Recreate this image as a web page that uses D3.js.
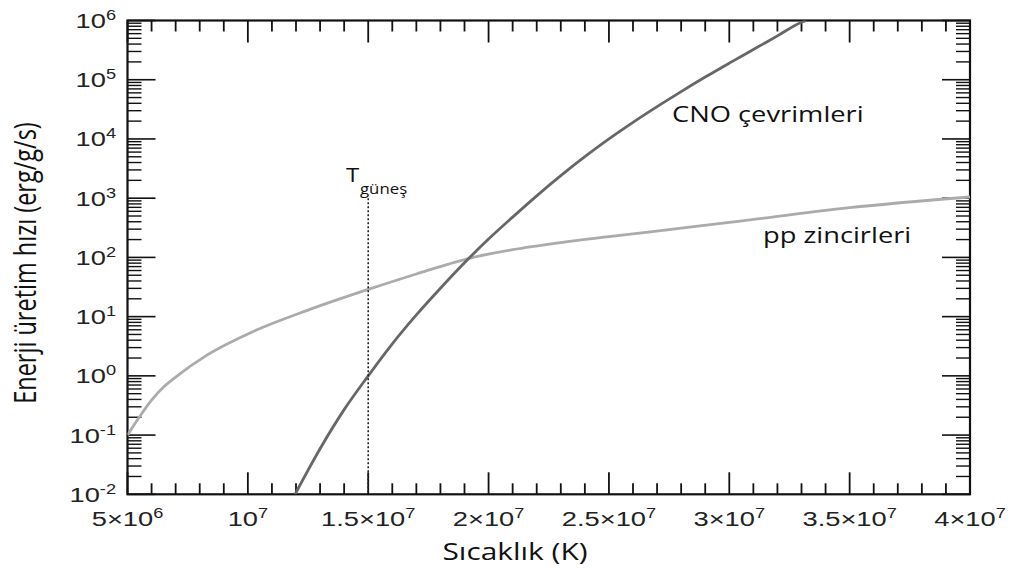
<!DOCTYPE html>
<html><head><meta charset="utf-8">
<script src="https://cdn.jsdelivr.net/npm/d3@7/dist/d3.min.js"></script>
<style>body{margin:0;background:#fff}svg{display:block}</style></head>
<body><svg id="c" width="1014" height="572"></svg>
<script>
// ---- data ----
const tempTicks = [5e6, 1e7, 1.5e7, 2e7, 2.5e7, 3e7, 3.5e7, 4e7];
const tempTickMantissa = ["5×", "", "1.5×", "2×", "2.5×", "3×", "3.5×", "4×"];
const tempTickExp = ["6", "7", "7", "7", "7", "7", "7", "7"];
const rateTicks = [1e-2, 1e-1, 1, 10, 100, 1e3, 1e4, 1e5, 1e6];
const rateTickExp = ["-2", "-1", "0", "1", "2", "3", "4", "5", "6"];

const ppTemp = [5.0e6, 5.5e6, 6.0e6, 6.5e6, 7.0e6, 8.3e6, 10.2e6, 12.5e6, 15.0e6, 17.0e6, 19.2e6, 21.0e6, 23.0e6, 25.0e6, 27.5e6, 30.0e6, 35.0e6, 40.0e6];
const ppRate = [0.1, 0.204, 0.389, 0.646, 0.955, 2.24, 5.56, 12.9, 28.8, 52.5, 96.6, 135, 178, 224, 295, 389, 692, 1047];

const cnoTemp = [11.96e6, 13e6, 14e6, 15e6, 16e6, 17e6, 18e6, 19e6, 20e6, 21e6, 22e6, 23e6, 24e6, 25e6, 26e6, 27e6, 28e6, 29e6, 30e6, 31e6, 32e6, 33e6, 33.2e6];
const cnoRate = [0.01, 0.0589, 0.269, 1.0, 3.47, 10.7, 30.2, 81.3, 204, 479, 1096, 2399, 5012, 10000, 19050, 35080, 63100, 110900, 190500, 323600, 549500, 933300, 1000000];

const sunTemp = 1.5e7;
const sunRateTop = 1e3;

const xTitle = "Sıcaklık (K)";
const yTitle = "Enerji üretim hızı (erg/g/s)";
const cnoLabel = "CNO çevrimleri";
const ppLabel = "pp zincirleri";
const sunLabelMain = "T";
const sunLabelSub = "güneş";

// ---- layout ----
const L = 127.5, R = 970, T = 20.5, B = 494.3;
const SX = 1.3; // horizontal text stretch of the reference
const svg = d3.select("#c");
const x = d3.scaleLinear().domain([5e6, 4e7]).range([L, R]);
const y = d3.scaleLog().domain([1e-2, 1e6]).range([B, T]);

svg.append("defs").append("clipPath").attr("id", "plot")
  .append("rect").attr("x", L).attr("y", T).attr("width", R - L).attr("height", B - T);

// minor ticks
const xMinor = d3.range(5e6, 4e7 + 1, 1e6).filter(v => !tempTicks.some(t => Math.abs(t - v) < 1));
const yMinor = [];
for (let e = -2; e < 6; e++) for (let m = 2; m <= 9; m++) yMinor.push(m * Math.pow(10, e));

const axisG = svg.append("g").attr("stroke", "#111").attr("fill", "none");
function tickSet(vals, len, width) {
  vals.forEach(v => {
    axisG.append("line").attr("x1", x(v)).attr("x2", x(v)).attr("y1", B).attr("y2", B - len).attr("stroke-width", width);
    axisG.append("line").attr("x1", x(v)).attr("x2", x(v)).attr("y1", T).attr("y2", T + len).attr("stroke-width", width);
  });
}
tickSet(tempTicks, 22, 1.8);
tickSet(xMinor, 11, 1.8);
function yTickSet(vals, len, width) {
  vals.forEach(v => {
    axisG.append("line").attr("y1", y(v)).attr("y2", y(v)).attr("x1", L).attr("x2", L + len).attr("stroke-width", width);
    axisG.append("line").attr("y1", y(v)).attr("y2", y(v)).attr("x1", R).attr("x2", R - len).attr("stroke-width", width);
  });
}
yTickSet(rateTicks, 28, 1.6);
yTickSet(yMinor, 14, 1.4);
axisG.append("rect").attr("x", L).attr("y", T).attr("width", R - L).attr("height", B - T).attr("stroke-width", 2.2);

// tick labels
const tickFont = "'Liberation Sans', Arial, sans-serif";
tempTicks.forEach((v, i) => {
  const t = svg.append("text").attr("transform", `translate(${x(v)},526) scale(${SX},1)`)
    .attr("text-anchor", "middle").attr("font-family", tickFont).attr("font-size", 21).attr("fill", "#222");
  t.append("tspan").text(tempTickMantissa[i] + "10");
  t.append("tspan").attr("dy", -8).attr("font-size", 14).text(tempTickExp[i]);
});
rateTicks.forEach((v, i) => {
  const t = svg.append("text").attr("transform", `translate(116,${y(v) + 7.5}) scale(${SX},1)`)
    .attr("text-anchor", "end").attr("font-family", tickFont).attr("font-size", 21).attr("fill", "#222");
  t.append("tspan").text("10");
  t.append("tspan").attr("dy", -8).attr("font-size", 14).text(rateTickExp[i]);
});

// curves
const line = d3.line().x(d => x(d[0])).y(d => y(d[1])).curve(d3.curveMonotoneX);
const curves = svg.append("g").attr("clip-path", "url(#plot)").attr("fill", "none");
curves.append("path").datum(ppTemp.map((t, i) => [t, ppRate[i]]))
  .attr("d", line).attr("stroke", "#ababab").attr("stroke-width", 2.8);
curves.append("path").datum(cnoTemp.map((t, i) => [t, cnoRate[i]]))
  .attr("d", line).attr("stroke", "#676767").attr("stroke-width", 2.8);

// sun line
svg.append("line").attr("x1", x(sunTemp)).attr("x2", x(sunTemp)).attr("y1", y(sunRateTop)).attr("y2", B)
  .attr("stroke", "#222").attr("stroke-width", 1.6).attr("stroke-dasharray", "2,2");

// labels
const labelFont = "'Open Sans', 'Noto Sans', sans-serif";
svg.append("text").attr("transform", `translate(346,181.7) scale(1.2,1)`)
  .attr("font-family", labelFont).attr("font-size", 20).attr("fill", "#111").text(sunLabelMain);
svg.append("text").attr("transform", `translate(360,194) scale(1.2,1)`)
  .attr("font-family", labelFont).attr("font-size", 14).attr("fill", "#111").text(sunLabelSub);

svg.append("text").attr("transform", `translate(672,122) scale(${SX},1)`)
  .attr("font-family", labelFont).attr("font-size", 21).attr("fill", "#111").text(cnoLabel);
svg.append("text").attr("transform", `translate(763,243) scale(${SX},1)`)
  .attr("font-family", labelFont).attr("font-size", 21).attr("fill", "#111").text(ppLabel);

svg.append("text").attr("transform", `translate(515,560) scale(${SX},1)`)
  .attr("text-anchor", "middle").attr("font-family", labelFont).attr("font-size", 23).attr("fill", "#111").text(xTitle);
svg.append("text").attr("transform", `translate(36,263) scale(${SX},1) rotate(-90)`)
  .attr("text-anchor", "middle").attr("font-family", labelFont).attr("font-size", 23.5).attr("fill", "#111").text(yTitle);
</script></body></html>
